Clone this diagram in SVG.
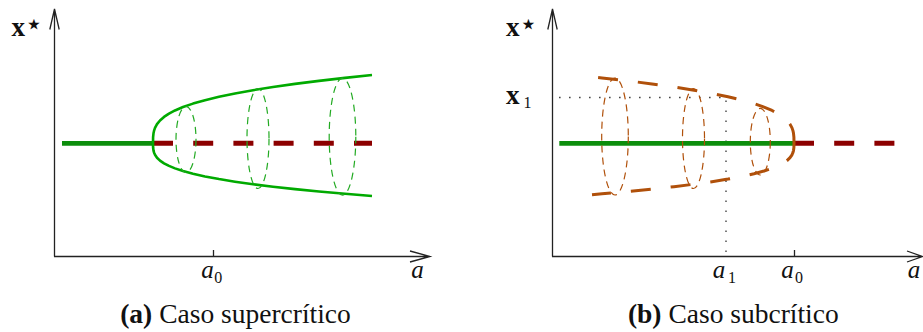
<svg xmlns="http://www.w3.org/2000/svg" width="923" height="332" viewBox="0 0 923 332">
<style>
.axis{fill:none;stroke:#222;stroke-width:1.3}
.thick{fill:none;stroke:#0c8e0c;stroke-width:4.8}
.red{fill:none;stroke:#8c0000;stroke-width:5;stroke-dasharray:20 20.2}
.stab{fill:none;stroke:#00aa00;stroke-width:2.6;stroke-linejoin:round}
.gell{fill:none;stroke:#22aa22;stroke-width:1.2;stroke-dasharray:7 5}
.brown{fill:none;stroke:#b0500a;stroke-width:3;stroke-dasharray:20 20;stroke-linejoin:round}
.bell{fill:none;stroke:#b0500a;stroke-width:1.2;stroke-dasharray:7 5}
.dot{fill:none;stroke:#444;stroke-width:1.4;stroke-dasharray:1.6 8.4}
.m{font-family:"Liberation Serif",serif;font-style:italic;font-size:25px;fill:#111}
.sub{font-family:"Liberation Serif",serif;font-size:16px;fill:#111}
.bx{font-family:"Liberation Serif",serif;font-weight:bold;font-size:27px;fill:#111}
.star{font-family:"DejaVu Sans",sans-serif;font-size:30px;fill:#111}
.cap{font-family:"Liberation Serif",serif;font-size:27.5px;fill:#111;text-anchor:middle}
</style>

<g id="panel-a">
  <g id="axes-a">
    <path class="axis" d="M54.5,256.5 V9 M49.8,29.5 L54.5,9 L59.2,29.5"/>
    <path class="axis" d="M54,256.5 H430 M410,251 L430,256.5 L410,262"/>
    <path class="axis" d="M213.5,250 V256.5"/>
  </g>
  <g id="labels-a">
    <text class="bx" x="11.5" y="36">x</text>
    <text class="star" x="24.5" y="33.5">⋆</text>
    <text class="m" x="201.2" y="278.3">a</text>
    <text class="sub" x="214.3" y="282.7">0</text>
    <text class="m" x="411.2" y="278.3">a</text>
  </g>
  <g id="branches-a">
    <line class="thick" x1="62" y1="143.3" x2="153" y2="143.3"/>
    <line class="red" x1="153" y1="143.3" x2="372" y2="143.3"/>
    <path class="stab" d="M372,75 L345,77.9 L319,80.88 L295,83.91 L273,87.01 L253,90.18 L235,93.43 L219,96.75 L205,100.15 L193,103.61 L183,107.07 L175,110.46 L169,113.62 L164,116.94 L160,120.45 L157,124.15 L155,127.9 L154,130.9 L153.5,133.3 L153.1,137.2 L153,143 L153.1,147.52 L153.5,150.57 L154,152.44 L155,154.78 L157,157.7 L160,160.59 L164,163.33 L169,165.92 L175,168.38 L183,171.03 L193,173.72 L205,176.42 L219,179.08 L235,181.66 L253,184.2 L273,186.67 L295,189.09 L319,191.45 L345,193.78 L372,196.04"/>
  </g>
  <g id="cycles-a">
    <ellipse class="gell" cx="186" cy="139.5" rx="10" ry="33"/>
    <ellipse class="gell" cx="258" cy="138.5" rx="11" ry="50"/>
    <ellipse class="gell" cx="342.5" cy="136.7" rx="13.3" ry="58.5"/>
  </g>
  <text id="caption-a" class="cap" x="235.5" y="323"><tspan font-weight="bold">(a)</tspan> Caso supercrítico</text>
</g>

<g id="panel-b">
  <g id="axes-b">
    <path class="axis" d="M552.5,256.5 V9 M547.8,29.5 L552.5,9 L557.2,29.5"/>
    <path class="axis" d="M552,256.5 H922.5 M907,251 L922.5,256.5 L907,262"/>
    <path class="axis" d="M794.5,250 V256.5"/>
  </g>
  <g id="guides-b">
    <path class="dot" d="M559,97.5 H726 V256"/>
  </g>
  <g id="labels-b">
    <text class="bx" x="506" y="36">x</text>
    <text class="star" x="519" y="33.5">⋆</text>
    <text class="bx" x="506" y="104.3">x</text>
    <text class="sub" x="523.5" y="108.3">1</text>
    <text class="m" x="712.8" y="278.3">a</text>
    <text class="sub" x="728" y="282.7">1</text>
    <text class="m" x="781.2" y="278.3">a</text>
    <text class="sub" x="795" y="282.7">0</text>
    <text class="m" x="907.8" y="278.3">a</text>
  </g>
  <g id="branches-b">
    <line class="thick" x1="559.3" y1="143.3" x2="794" y2="143.3"/>
    <line class="red" x1="794" y1="143.3" x2="895" y2="143.3"/>
    <path class="brown" d="M794,143 L793.9,137.2 L793.5,133.3 L793,130.9 L792,127.9 L790,124.15 L787,120.45 L783,116.94 L778,113.62 L772,110.46 L764,107.07 L754,103.61 L742,100.15 L728,96.75 L712,93.43 L694,90.18 L674,87.01 L652,83.91 L628,80.88 L602,77.9 L592,76.73"/>
    <path class="brown" d="M794,143 L793.9,147.52 L793.5,150.57 L793,152.44 L792,154.78 L790,157.7 L787,160.59 L783,163.33 L778,165.92 L772,168.38 L764,171.03 L754,173.72 L742,176.42 L728,179.08 L712,181.66 L694,184.2 L674,186.67 L652,189.09 L628,191.45 L602,193.78 L592,194.69"/>
  </g>
  <g id="cycles-b">
    <ellipse class="bell" cx="615" cy="136.5" rx="13.3" ry="58.5"/>
    <ellipse class="bell" cx="693.5" cy="138.5" rx="11" ry="50"/>
    <ellipse class="bell" cx="760.3" cy="141.7" rx="10" ry="33.3"/>
  </g>
  <text id="caption-b" class="cap" x="733.3" y="323"><tspan font-weight="bold">(b)</tspan> Caso subcrítico</text>
</g>
</svg>
